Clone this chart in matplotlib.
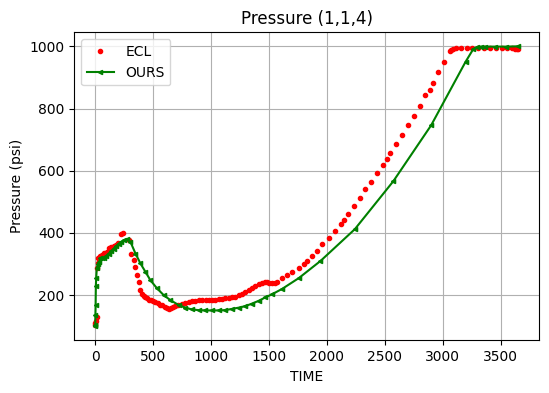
import matplotlib
matplotlib.use("Agg")
import matplotlib.pyplot as plt

# ECL reference pressure at cell (1,1,4), ten values per line
ecl_t = [1, 3, 8, 14, 18, 22, 28, 40, 60, 80,
         100, 120, 140, 160, 180, 200, 220, 245, 290, 314,
         334, 349, 363, 377, 392, 406, 420, 435, 450, 464,
         480, 500, 521, 540, 560, 578, 600, 620, 636, 655,
         675, 694, 720, 751, 780, 809, 840, 867, 895, 924,
         955, 982, 1010, 1039, 1068, 1096, 1125, 1155, 1185, 1212,
         1240, 1269, 1298, 1327, 1356, 1385, 1414, 1442, 1465, 1485,
         1505, 1528, 1550, 1571, 1614, 1658, 1701, 1759, 1802, 1830,
         1873, 1917, 1960, 2018, 2075, 2119, 2153, 2184, 2236, 2285,
         2334, 2383, 2435, 2486, 2521, 2550, 2599, 2650, 2702, 2749,
         2801, 2852, 2887, 2915, 2961, 3011, 3060, 3073, 3090, 3112,
         3163, 3212, 3255, 3304, 3356, 3405, 3457, 3509, 3557, 3600,
         3625, 3640, 3652]
ecl_p = [104, 110, 118, 130, 288, 305, 319, 326, 330, 335,
         340, 351, 355, 358, 362, 368, 396, 400, 377, 331,
         312, 291, 264, 241, 216, 205, 198, 195, 190, 186,
         183, 180, 177, 174, 170, 167, 162, 158, 157, 158,
         162, 165, 169, 173, 176, 178, 180, 182, 183, 184,
         184, 184, 185, 186, 187, 189, 190, 191, 193, 195,
         200, 205, 210, 216, 222, 229, 235, 240, 242, 243,
         240, 238, 240, 243, 254, 264, 275, 289, 300, 310,
         325, 342, 366, 385, 407, 428, 443, 462, 486, 514,
         540, 565, 593, 620, 639, 658, 687, 716, 748, 777,
         809, 842, 861, 883, 916, 950, 984, 989, 991, 993,
         993, 993, 993, 993, 993, 993, 993, 993, 993, 993,
         992, 992, 992]

# our simulator at the same cell
ours_t = [1, 2, 3, 5, 7, 10, 15, 25, 35, 47,
          60, 75, 95, 118, 140, 161, 183, 205, 226, 248,
          276, 306, 349, 392, 435, 478, 535, 593, 651, 723,
          780, 837, 895, 953, 1010, 1068, 1126, 1183, 1241, 1298,
          1355, 1413, 1471, 1528, 1614, 1759, 1946, 2242, 2574, 2901,
          3198, 3263, 3300, 3330, 3370, 3450, 3550, 3650]
ours_p = [100, 104, 135, 168, 230, 254, 286, 300, 307, 318,
          318, 318, 326, 334, 342, 350, 358, 366, 372, 377,
          380, 371, 334, 302, 275, 248, 222, 200, 184, 168,
          160, 154, 152, 151, 151, 151, 152, 156, 160, 165,
          173, 182, 193, 203, 220, 255, 310, 412, 566, 746,
          950, 990, 998, 999, 999, 999, 999, 1000]

fig = plt.figure(figsize=(5.49, 3.93), dpi=100)
ax = fig.add_axes([0.1348, 0.1341, 0.8475, 0.7837])
ax.plot(ecl_t, ecl_p, 'r.', label='ECL')
ax.plot(ours_t, ours_p, 'g-<', markersize=3, label='OURS')
ax.set_title('Pressure (1,1,4)')
ax.set_xlabel('TIME')
ax.set_ylabel('Pressure (psi)')
ax.grid(True)
ax.legend(loc='upper left')
fig.savefig('out.png', dpi=100)
